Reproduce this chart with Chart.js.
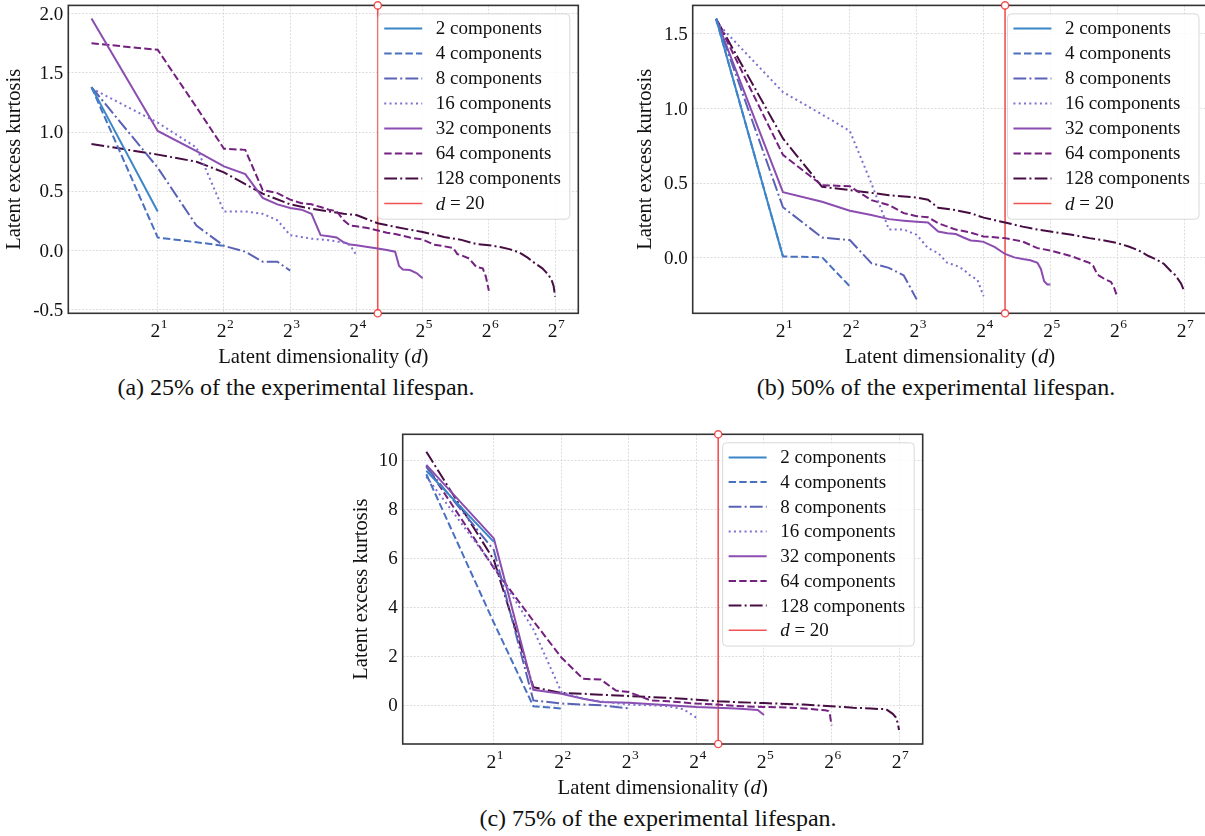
<!DOCTYPE html>
<html><head><meta charset="utf-8">
<script src="https://cdn.jsdelivr.net/npm/chart.js@4/dist/chart.umd.min.js"></script>
<style>
html,body{margin:0;padding:0;background:#fff;overflow:hidden;width:1205px;height:836px;position:relative;}
canvas{position:absolute;}
.cap{position:absolute;font-family:'Liberation Serif','Times New Roman',serif;font-size:24px;line-height:28px;color:#111;white-space:nowrap;transform:translateX(-50%);}
</style></head><body>
<canvas id="ca" width="595" height="372" style="left:0px;top:0px"></canvas>
<canvas id="cb" width="620" height="372" style="left:600px;top:0px"></canvas>
<canvas id="cc" width="610" height="372" style="left:330px;top:425px"></canvas>
<div class="cap" style="left:296px;top:373px">(a) 25% of the experimental lifespan.</div>
<div class="cap" style="left:936px;top:373px">(b) 50% of the experimental lifespan.</div>
<div class="cap" style="left:658px;top:804px">(c) 75% of the experimental lifespan.</div>
<script>
// ---------- shared categories / ticks ----------
const seriesLabels = ['2 components','4 components','8 components','16 components','32 components','64 components','128 components'];
const markerLabel = 'd = 20';
const markerD = 20;
const xTicks = [2,4,8,16,32,64,128];
const aYTicks = [-0.5,0,0.5,1,1.5,2];
const bYTicks = [0,0.5,1,1.5];
const cYTicks = [0,2,4,6,8,10];

// ---------- (a) 25% ----------
const aX2 = [1,2];
const aY2 = [1.38,0.33];
const aX4 = [1,2,3,4];
const aY4 = [1.38,0.11,0.07,0.04];
const aX8 = [1,2,3,4,5,6,7,8];
const aY8 = [1.38,0.70,0.21,0.04,-0.01,-0.095,-0.095,-0.17];
const aX16 = [1,2,3,4,5,6,7,8,10,12,14,15,16];
const aY16 = [1.37,1.08,0.87,0.33,0.33,0.31,0.255,0.13,0.10,0.087,0.067,0.045,-0.04];
const aX32 = [1,2,3,4,5,6,7,8,9,10,11,12,13,14,15,16,18,20,22,24,25,26,28,30,32];
const aY32 = [1.96,1.01,0.84,0.71,0.645,0.445,0.39,0.36,0.345,0.31,0.13,0.12,0.11,0.07,0.05,0.045,0.03,0.017,0.005,-0.01,-0.13,-0.16,-0.165,-0.19,-0.235];
const aX64 = [1,2,3,4,5,6,7,8,9,10,11,12,13,14,15,16,18,20,22,24,28,32,36,40,44,46,48,52,56,60,62,64];
const aY64 = [1.75,1.695,1.21,0.86,0.85,0.51,0.485,0.43,0.40,0.39,0.367,0.345,0.333,0.255,0.21,0.205,0.19,0.17,0.15,0.14,0.11,0.093,0.05,0.036,0.022,-0.03,-0.04,-0.067,-0.137,-0.15,-0.22,-0.34];
const aX128 = [1,2,3,4,5,6,8,10,12,14,16,20,24,28,32,40,48,56,64,72,80,88,96,104,112,116,120,124,126,128];
const aY128 = [0.90,0.81,0.75,0.66,0.56,0.48,0.39,0.353,0.33,0.31,0.30,0.23,0.20,0.176,0.157,0.115,0.09,0.055,0.045,0.03,0.01,-0.017,-0.06,-0.11,-0.15,-0.18,-0.21,-0.26,-0.30,-0.39];

// ---------- (b) 50% ----------
const bX2 = [1,2];
const bY2 = [1.6,0.01];
const bX4 = [1,2,3,4];
const bY4 = [1.6,0.01,0.005,-0.19];
const bX8 = [1,2,3,4,5,6,7,8];
const bY8 = [1.6,0.34,0.137,0.12,-0.035,-0.066,-0.117,-0.277];
const bX16 = [1,2,3,4,5,6,7,8,9,10,11,12,13,14,15,16];
const bY16 = [1.58,1.11,0.96,0.85,0.50,0.19,0.19,0.155,0.066,0.033,-0.033,-0.05,-0.077,-0.12,-0.144,-0.255];
const bX32 = [1,2,3,4,5,6,7,8,9,10,11,12,13,14,15,16,18,20,22,24,26,28,29,30,31,32];
const bY32 = [1.6,0.44,0.376,0.316,0.288,0.26,0.25,0.243,0.237,0.177,0.166,0.16,0.137,0.117,0.113,0.108,0.073,0.027,0.004,-0.007,-0.015,-0.033,-0.073,-0.155,-0.177,-0.177];
const bX64 = [1,2,3,4,5,6,7,8,9,10,12,14,16,20,24,28,32,40,48,50,52,56,60,62,64];
const bY64 = [1.6,0.69,0.487,0.48,0.387,0.354,0.30,0.28,0.272,0.232,0.19,0.17,0.144,0.133,0.11,0.066,0.05,0.011,-0.033,-0.055,-0.11,-0.14,-0.16,-0.20,-0.26];
const bX128 = [1,2,3,4,5,6,8,9,10,12,14,16,20,24,28,32,40,48,56,64,72,80,88,96,104,112,116,120,124,128];
const bY128 = [1.6,0.80,0.476,0.454,0.436,0.42,0.405,0.39,0.336,0.32,0.30,0.27,0.237,0.21,0.19,0.177,0.155,0.133,0.117,0.10,0.077,0.05,0.015,-0.01,-0.04,-0.09,-0.11,-0.14,-0.17,-0.22];

// ---------- (c) 75% ----------
const cX2 = [1,2];
const cY2 = [9.57,6.67];
const cX4 = [1,2,3,4];
const cY4 = [9.43,3.37,-0.04,-0.13];
const cX8 = [1,2,3,4,5,6,8];
const cY8 = [9.73,6.33,0.2,0.07,0.03,0,-0.13];
const cX16 = [1,2,3,4,5,6,8,10,12,14,16];
const cY16 = [9.33,5.66,3.1,0.54,0.27,0.16,0.03,0,-0.04,-0.16,-0.51];
const cX32 = [1,2,3,4,5,6,8,12,16,24,28,30,32];
const cY32 = [9.81,6.81,0.63,0.47,0.27,0.13,0.1,0,-0.07,-0.13,-0.17,-0.19,-0.4];
const cX64 = [1,2,3,4,5,6,7,8,10,12,16,20,24,32,40,48,56,60,62,63,64];
const cY64 = [9.77,5.6,3.44,1.95,1.08,1.05,0.6,0.54,0.2,0.16,0.07,0.03,-0.03,-0.07,-0.09,-0.13,-0.18,-0.2,-0.24,-0.4,-0.82];
const cX128 = [1,2,3,4,5,6,8,12,16,20,24,32,48,64,80,96,104,112,120,124,126,128];
const cY128 = [10.35,5.93,0.74,0.5,0.47,0.43,0.38,0.3,0.23,0.16,0.13,0.09,0.03,-0.04,-0.1,-0.13,-0.15,-0.16,-0.35,-0.5,-0.7,-1.01];

// ---------- styles ----------
const SERIF = "'Liberation Serif','Times New Roman',serif";
const seriesColors = ['#3b86c8','#4a70c0','#5a62b6','#7d6fd0','#8b4db0','#73207f','#470d43'];
const DASHED = [7.4,3.2], DASHDOT = [12.8,3.2,2,3.2], DOTTED = [2,3.3];
const seriesDash = [[],DASHED,DASHDOT,DOTTED,[],DASHED,DASHDOT];
const RED = 'rgba(238,45,45,0.82)';

function makeChart(id, xs, ys, yMin, yMax, yTicks, yFmt, g) {
  const datasets = xs.map((xArr,i)=>({
    label: seriesLabels[i],
    data: xArr.map((x,j)=>({x:x, y:ys[i][j]})),
    borderColor: seriesColors[i], borderDash: seriesDash[i], borderWidth: 2,
    pointRadius: 0, tension: 0, fill: false
  }));
  datasets.push({
    label: markerLabel, isMarker: true,
    data: [{x:markerD, y:yMin},{x:markerD, y:yMax}],
    borderColor: RED, borderWidth: 1.6, borderDash: [],
    pointRadius: 3.6, pointBackgroundColor: '#fff', pointBorderColor: RED, pointBorderWidth: 1.4,
    clip: false, tension: 0
  });
  const deco = {
    id: 'deco'+id,
    beforeDatasetsDraw(chart) {
      const ctx = chart.ctx, a = chart.chartArea;
      ctx.save();
      ctx.strokeStyle = '#333'; ctx.lineWidth = 1.6;
      ctx.strokeRect(a.left, a.top, a.right-a.left, a.bottom-a.top);
      ctx.restore();
    },
    afterDatasetsDraw(chart) {
      const ctx = chart.ctx, a = chart.chartArea;
      const xs_ = chart.scales.x, ys_ = chart.scales.y;
      ctx.save();
      ctx.fillStyle = '#111';
      // y tick labels
      ctx.font = '19px ' + SERIF; ctx.textAlign = 'right'; ctx.textBaseline = 'middle';
      yTicks.forEach(v=>{ ctx.fillText(yFmt(v), a.left-5, ys_.getPixelForValue(v)+1); });
      // x tick labels 2^k
      ctx.textBaseline = 'alphabetic';
      xTicks.forEach(v=>{
        const k = String(Math.round(Math.log2(v)));
        ctx.font = '19.5px ' + SERIF; const wb = ctx.measureText('2').width;
        ctx.font = '13.5px ' + SERIF; const we = ctx.measureText(k).width;
        const px = xs_.getPixelForValue(v) - (wb+we)/2 + 1;
        ctx.textAlign = 'left';
        ctx.font = '19.5px ' + SERIF; ctx.fillText('2', px, a.bottom+24);
        ctx.font = '13.5px ' + SERIF; ctx.fillText(k, px+wb+0.5, a.bottom+14.5);
      });
      // x title
      const parts = [['Latent dimensionality (', ''],['d','italic '],[')','']];
      let tw = 0;
      parts.forEach(p=>{ ctx.font = p[1]+'20.7px '+SERIF; tw += ctx.measureText(p[0]).width; });
      let tx = (a.left+a.right)/2 - tw/2;
      parts.forEach(p=>{ ctx.font = p[1]+'20.7px '+SERIF; ctx.textAlign='left'; ctx.fillText(p[0], tx, a.bottom+50); tx += ctx.measureText(p[0]).width; });
      // y title
      ctx.save();
      ctx.translate(a.left - g.yTitleOff, (a.top+a.bottom)/2);
      ctx.rotate(-Math.PI/2);
      ctx.font = '20.5px ' + SERIF; ctx.textAlign = 'center'; ctx.textBaseline = 'middle';
      ctx.fillText('Latent excess kurtosis', 0, 0);
      ctx.restore();
      // legend
      const ds = chart.data.datasets;
      ctx.font = '19px ' + SERIF;
      const textW = Math.max(...ds.map(d=>ctx.measureText(d.label).width));
      const rowH = g.rowH;
      const boxW = 6 + 38 + 13.5 + textW + 9;
      const boxH = 14.6 + (ds.length-1)*rowH + 15.7;
      const bx = a.right - 8.5 - boxW, by = a.top + 8.5;
      ctx.beginPath();
      ctx.roundRect(bx, by, boxW, boxH, 4);
      ctx.fillStyle = 'rgba(255,255,255,0.85)'; ctx.fill();
      ctx.strokeStyle = '#d8d8d8'; ctx.lineWidth = 1; ctx.stroke();
      ds.forEach((d,i)=>{
        const yy = by + 14.6 + i*rowH;
        ctx.save();
        ctx.strokeStyle = d.borderColor; ctx.lineWidth = d.isMarker ? 1.6 : 2;
        ctx.setLineDash(d.borderDash || []);
        ctx.beginPath(); ctx.moveTo(bx+6, yy); ctx.lineTo(bx+44, yy); ctx.stroke();
        ctx.restore();
        ctx.fillStyle = '#111'; ctx.textAlign = 'left'; ctx.textBaseline = 'middle';
        if (d.isMarker) {
          ctx.font = 'italic 19px ' + SERIF; ctx.fillText('d', bx+57.5, yy+1);
          const w = ctx.measureText('d').width;
          ctx.font = '19px ' + SERIF; ctx.fillText(d.label.slice(1), bx+57.5+w, yy+1);
        } else {
          ctx.font = '19px ' + SERIF; ctx.fillText(d.label, bx+57.5, yy+1);
        }
      });
      ctx.restore();
    }
  };
  const gridOpts = {color:'#d4d4d4', lineWidth:0.8, drawTicks:false, tickLength:0};
  return new Chart(document.getElementById(id), {
    type: 'line',
    data: {datasets},
    options: {
      responsive: false, animation: false, events: [],
      layout: {padding: {top: g.padTop, right: g.padRight, left: 0, bottom: 0}},
      plugins: {legend: {display:false}, tooltip: {enabled:false}},
      scales: {
        x: {type:'logarithmic', min: Math.pow(2,-0.35), max: Math.pow(2,7.35),
            afterBuildTicks: s=>{ s.ticks = xTicks.map(v=>({value:v})); },
            ticks:{display:false}, grid: gridOpts, border:{display:false, dash:[2,1.5]},
            afterFit: s=>{ s.height = g.xH; }},
        y: {type:'linear', min: yMin, max: yMax,
            afterBuildTicks: s=>{ s.ticks = yTicks.map(v=>({value:v})); },
            ticks:{display:false}, grid: gridOpts, border:{display:false, dash:[2,1.5]},
            afterFit: s=>{ s.width = g.yW; }}
      }
    },
    plugins: [deco]
  });
}

const fmt1 = v => v.toFixed(1);
const fmt0 = v => String(v);

makeChart('ca', [aX2,aX4,aX8,aX16,aX32,aX64,aX128], [aY2,aY4,aY8,aY16,aY32,aY64,aY128],
  -0.53, 2.07, aYTicks, fmt1, {padTop:4, padRight:16.7, yW:68.3, xH:58.7, yTitleOff:53.3, rowH:25});
makeChart('cb', [bX2,bX4,bX8,bX16,bX32,bX64,bX128], [bY2,bY4,bY8,bY16,bY32,bY64,bY128],
  -0.37, 1.69, bYTicks, fmt1, {padTop:4, padRight:12.5, yW:92.7, xH:58.7, yTitleOff:46.7, rowH:25});
makeChart('cc', [cX2,cX4,cX8,cX16,cX32,cX64,cX128], [cY2,cY4,cY8,cY16,cY32,cY64,cY128],
  -1.58, 11.06, cYTicks, fmt0, {padTop:9.3, padRight:17.3, yW:72.7, xH:53, yTitleOff:40.7, rowH:24.7});
</script>
</body></html>
